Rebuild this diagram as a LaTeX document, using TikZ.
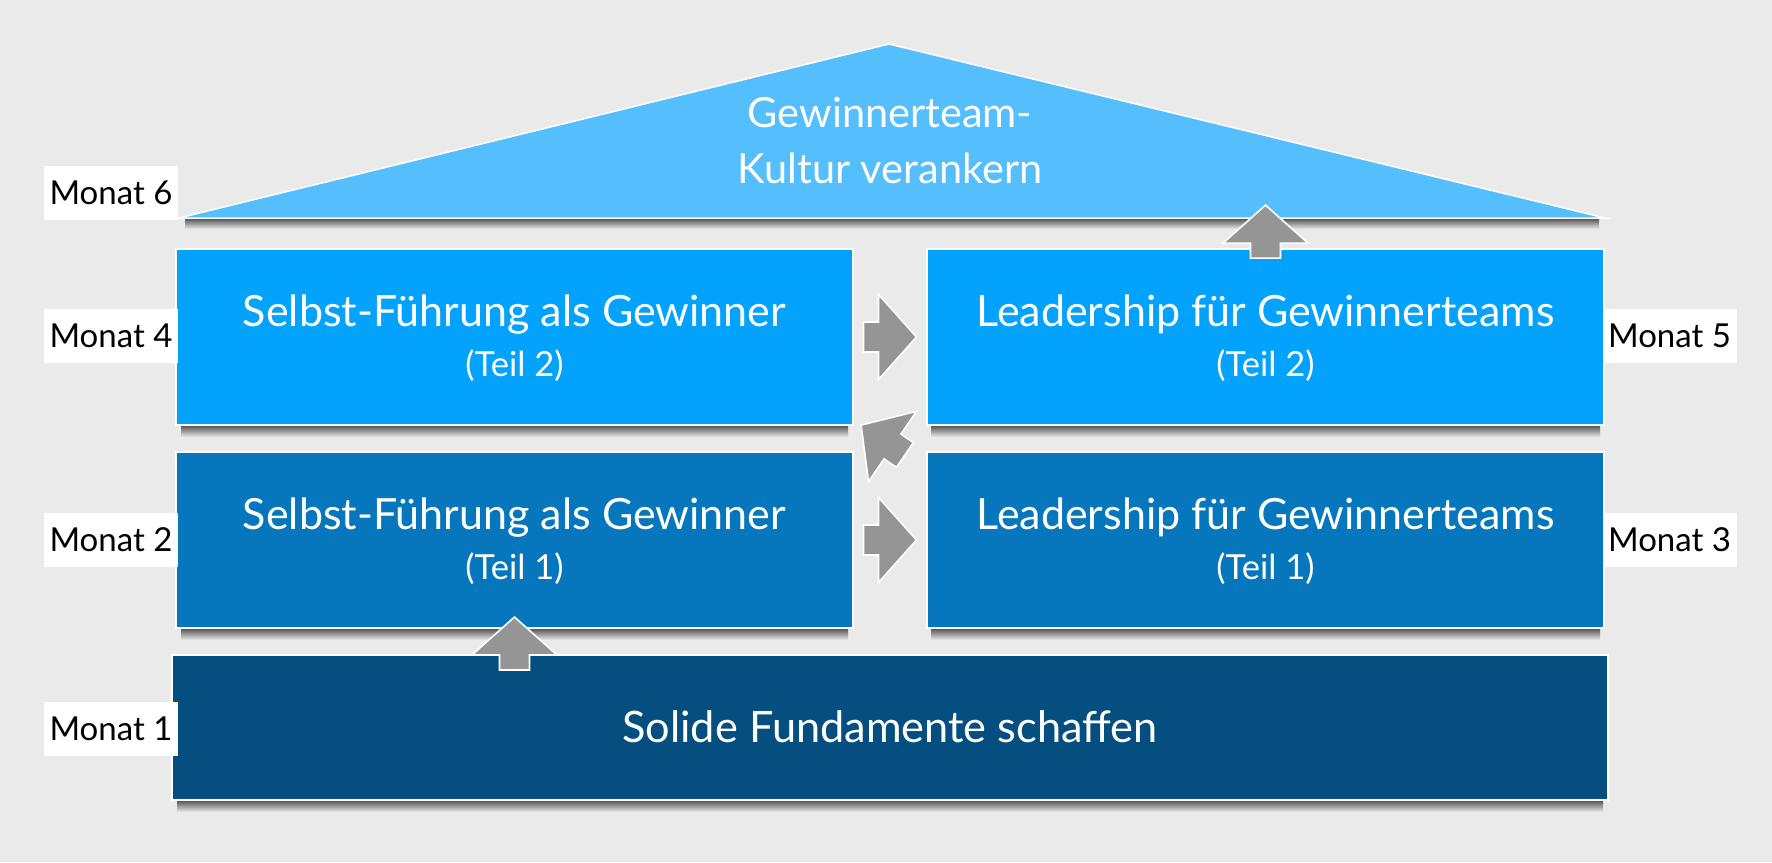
\documentclass[tikz,border=0pt]{standalone}
\usepackage{fontspec}
\setmainfont{Lato}
\usetikzlibrary{calc}
\definecolor{bg}{HTML}{EAEAEA}
\definecolor{roofblue}{HTML}{55BEFD}
\definecolor{topblue}{HTML}{03A2FC}
\definecolor{midblue}{HTML}{0677BD}
\definecolor{fundblue}{HTML}{044F80}
\definecolor{arrowgray}{HTML}{959595}
\newcommand{\blockarr}[2]{%
  \draw[blockarrow, shift={#1}, rotate=#2]
    (-26.5,-15) -- (-11.5,-15) -- (-11.5,-42.5) -- (26.5,0) -- (-11.5,42.5)
    -- (-11.5,15) -- (-26.5,15) -- cycle;}
\begin{document}
\begin{tikzpicture}[x=1pt,y=-1pt,
  block/.style={draw=white, line width=1.5pt, inner sep=0pt,
    minimum width=677pt, minimum height=176pt},
  titletext/.style={text=white, anchor=base, inner sep=0pt, font=\fontsize{43}{50}\selectfont},
  subtext/.style={text=white, anchor=base, inner sep=0pt, font=\fontsize{34.5}{40}\selectfont},
  mlabel/.style={fill=white, inner sep=0pt, minimum width=134pt,
    minimum height=54pt, font=\fontsize{33}{38}\selectfont},
  shadowbar/.style={top color=black!70, bottom color=bg, draw=none},
  blockarrow/.style={fill=arrowgray, draw=white, line width=1.6pt, line join=miter}]
\useasboundingbox (0,0) rectangle (1772,862);
\fill[bg] (0,0) rectangle (1772,862);

% roof
\coordinate (roofL) at (179,218);
\coordinate (roofR) at (1605,218);
\coordinate (roofT) at (889,44);
\shade[shadowbar] ($(roofL)+(6,0)$) rectangle ($(roofR)+(-6,11)$);
\filldraw[fill=roofblue, draw=white, line width=1.5pt] (roofL) -- (roofT) -- (roofR) -- cycle;
\node[titletext, font=\fontsize{41.5}{48}\selectfont] (roof1) at (890,127) {Gewinnerteam-};
\node[titletext, font=\fontsize{41.5}{48}\selectfont] (roof2) at (890,183) {Kultur verankern};

% shadows under blocks
\foreach \xa/\xb/\yb in {176/853/425, 926/1605/425, 176/853/628, 926/1605/628, 172/1608/800}
  \shade[shadowbar] (\xa+5,\yb) rectangle (\xb-5,\yb+12);

% blocks
\node[block, fill=topblue] (TL) at (514.5,337) {};
\node[block, fill=topblue] (TR) at (1265.5,337) {};
\node[block, fill=midblue] (ML) at (514.5,540) {};
\node[block, fill=midblue] (MR) at (1265.5,540) {};
\node[block, fill=fundblue, minimum width=1436pt, minimum height=145pt] (F) at (890,727.5) {};

\node[titletext] (TLa) at ($(TL.center)+(0,-11)$) {Selbst-Führung als Gewinner};
\node[subtext]   (TLb) at ($(TL.center)+(0,39)$) {(Teil 2)};
\node[titletext] (TRa) at ($(TR.center)+(0,-11)$) {Leadership für Gewinnerteams};
\node[subtext]   (TRb) at ($(TR.center)+(0,39)$) {(Teil 2)};
\node[titletext] (MLa) at ($(ML.center)+(0,-11)$) {Selbst-Führung als Gewinner};
\node[subtext]   (MLb) at ($(ML.center)+(0,39)$) {(Teil 1)};
\node[titletext] (MRa) at ($(MR.center)+(0,-11)$) {Leadership für Gewinnerteams};
\node[subtext]   (MRb) at ($(MR.center)+(0,39)$) {(Teil 1)};
\node[titletext, font=\fontsize{43.3}{50}\selectfont] (Fa) at ($(F.center)+(0,14.5)$) {Solide Fundamente schaffen};

% month labels
\node[mlabel] (m6) at (111,192.5) {Monat 6};
\node[mlabel] (m4) at (111,336) {Monat 4};
\node[mlabel] (m2) at (111,540) {Monat 2};
\node[mlabel] (m1) at (111,728.5) {Monat 1};
\node[mlabel] (m5) at (1669.5,336) {Monat 5};
\node[mlabel] (m3) at (1669.5,540) {Monat 3};

% block arrows
\coordinate (a1) at ($(ML.south)!0.5!(ML.south |- F.north)+(0,2)$);
\coordinate (a2) at ($(ML.east)!0.5!(MR.west)$);
\coordinate (a3) at ($(ML.north east)!0.5!(TR.south west)+(-7,1.5)$);
\coordinate (a4) at ($(TL.east)!0.5!(TR.west)$);
\coordinate (a5) at ($(TR.north)!0.5!(TR.north |- roofR)+(0,-1.5)$);
\blockarr{(a1)}{90}
\blockarr{(a2)}{0}
\blockarr{(a3)}{145.7}
\blockarr{(a4)}{0}
\blockarr{(a5)}{90}
\end{tikzpicture}
\end{document}
